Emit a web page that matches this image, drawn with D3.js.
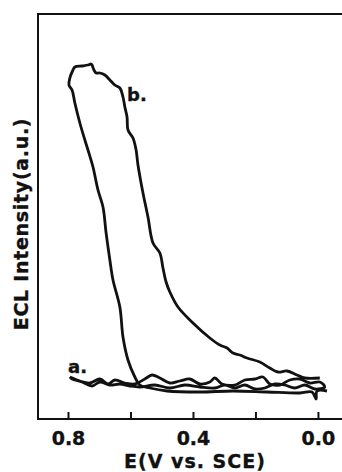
<!DOCTYPE html>
<html>
<head>
<meta charset="utf-8">
<script src="https://cdn.jsdelivr.net/npm/d3@7"></script>
<style>
  body { margin: 0; background: #fff; }
  text { font-family: "DejaVu Sans", sans-serif; font-weight: bold; fill: #111; stroke: #111; stroke-width: 0.35px; }
</style>
</head>
<body>
<div id="chart"></div>
<script>
// potential axis (V vs. SCE) and ECL intensity (a.u.)
const tickValues = [0.8, 0.6, 0.4, 0.2, 0.0];
const tickLabels = ["0.8", "", "0.4", "", "0.0"];

// curve b: bottom branch (0.0 -> 0.57), up the steep side, across the peak, back down to 0.0
const bE = [-0.029, 0.003, 0.006, 0.019, 0.058, 0.163, 0.272, 0.378, 0.483, 0.538, 0.570,
  0.586, 0.608, 0.624, 0.634, 0.656, 0.666, 0.678, 0.688, 0.704, 0.720, 0.736, 0.746, 0.762, 0.778, 0.787, 0.797,
  0.794, 0.784, 0.778, 0.755, 0.736, 0.726, 0.723, 0.717, 0.710, 0.698, 0.682, 0.666, 0.650, 0.634, 0.624, 0.618,
  0.611, 0.608, 0.592, 0.582, 0.576, 0.560, 0.544, 0.528, 0.506, 0.496, 0.486, 0.474, 0.448, 0.400, 0.346, 0.314,
  0.291, 0.272, 0.250, 0.227, 0.186, 0.154, 0.128, 0.099, 0.067, 0.042, -0.006];
const bI = [7.0, 7.0, 5.0, 6.75, 6.5, 6.75, 7.0, 6.75, 7.0, 7.75, 8.5,
  10.5, 14.75, 20.5, 28, 34.75, 39.75, 46.5, 53, 57.25, 63, 67.25, 69.75, 74, 79, 82.25, 83.5,
  85.25, 87.25, 88, 88.25, 88.5, 88.75, 88.5, 87.25, 86.5, 86.5, 86, 84.75, 83.5, 82.75, 80.5, 78,
  75.5, 72.25, 70.25, 67.25, 63.5, 56.5, 50.5, 44, 41.5, 37.75, 34.25, 31.75, 28, 24, 20.25, 18.5,
  17.75, 16.5, 16, 15.25, 14.25, 12.75, 11.75, 12, 11, 10.25, 10.25];

// curve a: flat loop near the baseline
const aE = [0.794, 0.762, 0.730, 0.698, 0.672, 0.650, 0.618, 0.586, 0.554, 0.531, 0.506, 0.474, 0.442, 0.410,
  0.378, 0.346, 0.330, 0.307, 0.266, 0.234, 0.202, 0.176, 0.154, 0.122, 0.090, 0.058, 0.026, -0.006,
  -0.022, 0.010, 0.042, 0.074, 0.106, 0.138, 0.170, 0.202, 0.234, 0.266, 0.298, 0.330, 0.378, 0.426,
  0.474, 0.522, 0.570, 0.602, 0.634, 0.666, 0.698, 0.723, 0.755, 0.787, 0.794];
const aI = [10.5, 9.5, 9.0, 10.0, 8.75, 9.75, 9.0, 8.75, 10.0, 11.0, 10.25, 9.0, 9.5, 10.0,
  8.75, 9.25, 10.25, 8.75, 8.5, 9.75, 10.0, 10.5, 8.75, 8.5, 9.75, 10.0, 9.0, 9.25,
  8.0, 7.5, 8.5, 7.75, 8.5, 8.75, 7.75, 7.5, 8.5, 7.75, 8.5, 7.75, 8.0, 8.5,
  7.75, 8.5, 8.0, 8.25, 8.75, 8.5, 9.25, 8.25, 9.25, 10.0, 10.5];

const width = 342, height = 472;
const margin = {top: 14, left: 38, bottom: 53};

const svg = d3.select("#chart").append("svg")
  .attr("width", width)
  .attr("height", height);

// x runs right to left (0.8 at the left)
const x = d3.scaleLinear().domain([0.896, -0.077]).range([margin.left, width]);
const y = d3.scaleLinear().domain([0, 101.25]).range([height - margin.bottom, margin.top]);

const line = d3.line().x(d => x(d[0])).y(d => y(d[1])).curve(d3.curveCatmullRom.alpha(0.5));

// frame: left, top and bottom
svg.append("path")
  .attr("d", `M${width},${y(101.25)}H${x(0.896)}V${y(0)}H${width}`)
  .attr("fill", "none")
  .attr("stroke", "#111")
  .attr("stroke-width", 2);

const xAxis = d3.axisBottom(x)
  .tickValues(tickValues)
  .tickSize(-7)
  .tickPadding(13)
  .tickFormat((d, i) => tickLabels[i]);

const gx = svg.append("g")
  .attr("transform", `translate(0,${y(0)})`)
  .call(xAxis);
gx.select(".domain").remove();
gx.selectAll(".tick line").attr("stroke", "#111").attr("stroke-width", 2);
gx.selectAll(".tick text")
  .attr("font-size", 19)
  .attr("font-family", "DejaVu Sans")
  .attr("font-weight", "bold")
  .attr("fill", "#111");

// curves
svg.append("path")
  .datum(aE.map((e, i) => [e, aI[i]]))
  .attr("d", line)
  .attr("fill", "none")
  .attr("stroke", "#111")
  .attr("stroke-width", 2.8)
  .attr("stroke-linejoin", "round");

svg.append("path")
  .datum(bE.map((e, i) => [e, bI[i]]))
  .attr("d", line)
  .attr("fill", "none")
  .attr("stroke", "#111")
  .attr("stroke-width", 2.8)
  .attr("stroke-linejoin", "round");

// curve labels
svg.append("text").attr("x", x(0.611)).attr("y", y(79.5))
  .attr("font-size", 18).text("b.");
svg.append("text").attr("x", x(0.80)).attr("y", y(11.5))
  .attr("font-size", 18).text("a.");

// axis titles
svg.append("text")
  .attr("x", 195).attr("y", 468)
  .attr("text-anchor", "middle")
  .attr("font-size", 19)
  .style("letter-spacing", "1px")
  .text("E(V vs. SCE)");

svg.append("text")
  .attr("transform", "translate(28,224) rotate(-90)")
  .attr("text-anchor", "middle")
  .attr("font-size", 19)
  .style("letter-spacing", "0.7px")
  .text("ECL Intensity(a.u.)");
</script>
</body>
</html>
